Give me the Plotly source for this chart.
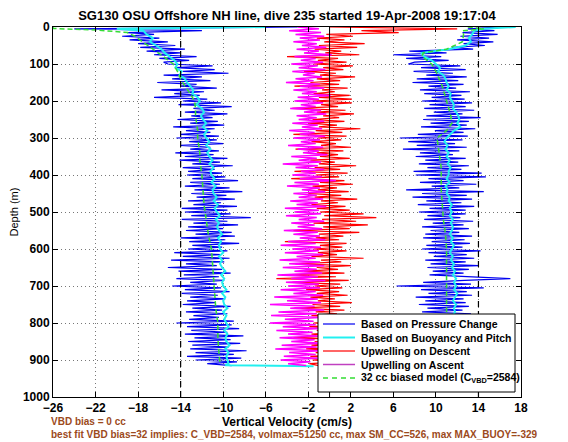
import plotly.graph_objects as go

# ---------------- data ----------------
# depth grid (m) for the dense (noisy) series, every 5 m from 0 to 915
depth5 = list(range(0, 920, 5))

# Descent, vertical velocity based on pressure change (cm/s)
desc_pressure = [
    -3, -24, -12, -19, -16.5, -19.5, -16, -18.8, -15.2, -18, -14.5, -17.8, -13.6, -17.2, -14, -16.5, -12.5, -16, -13.2, -15.6,
    -15.2, -11, -14.5, -10.8, -13.8, -9.5, -15.6, -12, -14.8, -11.2, -16.2, -12.5, -14, -10.6, -15.8, -11.8, -14.6, -12.2, -16.5, -11.5,
    -13.8, -10.2, -14.2, -9.2, -12.8, -10.8, -13.6, -9.6, -13, -11, -14.3, -10.5, -13.1, -9.9, -14.7, -10.8, -13.5, -11.2, -14, -10.4,
    -14.4, -10.6, -13.2, -10, -14, -11.2, -13.1, -10.4, -14.5, -10.9, -13.6, -9.6, -14.1, -10.3, -12.9, -9.1, -13.8, -10.8, -13.3, -10.1,
    -13.4, -9.8, -12.9, -8.6, -13.1, -10.3, -13.6, -9.4, -12.7, -8.2, -13, -9.7, -12.5, -8.9, -13.3, -10.2, -12.8, -8.7, -13.9, -9.6,
    -13.6, -9.3, -13, -7.4, -13.9, -9.6, -12.8, -8.6, -13.3, -10, -13.5, -9.2, -12.6, -8.9, -14, -9.8, -13.2, -8.5, -12.9, -10.1,
    -13.3, -9.6, -14.6, -10.2, -13.8, -9.4, -14.9, -9.9, -13.5, -10.6, -15.2, -10.1, -14.2, -9.3, -13.7, -10.4, -14.4, -9.9, -13.1, -10.6,
    -14.8, -10.2, -13.6, -9.4, -13.9, -10.5, -13.1, -9.8, -13.4, -10.7, -13.8, -9.3, -12.9, -10.1, -13.5, -9.6, -12.8, -10.4, -13.2, -9,
    -14.4, -9.2, -13.4, -8.5, -13, -9.6, -13.6, -8.1, -12.7, -9.3, -13.3, -8.4, -12.9, -9.5, -13.1, -7.8, -12.6, -9, -13.4, -8.3,
    -12.6, -8.7, -11.5, -9.2,
]

# Ascent, vertical velocity based on pressure change (cm/s)
asc_pressure = [
    16, 13, 15.5, 12.5, 15.8, 12.3, 15, 12, 15.4, 12.6, 14.6, 11.5, 13.5, 7.5, 11, 6, 10.5, 7.2, 11.2, 8,
    7.4, 12.3, 8.6, 12.8, 7.9, 11.6, 9.1, 12.9, 8.2, 12.1, 7.8, 12.6, 9.3, 11.9, 8.5, 13.2, 8.9, 12.4, 9.6, 12.7,
    8.7, 13.4, 9.4, 12.8, 8.9, 13.6, 9.8, 12.5, 9.1, 14.2, 8.8, 13.1, 9.5, 12.9, 8.6, 13.7, 9.9, 12.6, 8.3, 13,
    6.6, 12.5, 7.4, 11.8, 8.2, 12.9, 6.9, 12.2, 8.5, 11.6, 8.1, 12.8, 9, 12.1, 8.4, 13.1, 9.2, 12.4, 7.9, 14.3,
    8.1, 14.7, 9.3, 12.6, 8.5, 13.8, 9.6, 12.2, 7.2, 14.5, 8.7, 12.9, 7.8, 13.4, 9.1, 12.4, 8.3, 13.6, 9.4, 12.8,
    8.4, 12.8, 9.2, 12.3, 8.9, 13.5, 9.7, 12.6, 8.7, 13.1, 9.5, 12.2, 9, 13.4, 8.8, 12.7, 9.6, 13.2, 9.1, 12.5,
    8.7, 14.2, 9.3, 12.9, 9.8, 13.6, 9, 12.8, 9.5, 14, 9.2, 13.1, 9.7, 12.6, 9.4, 13.8, 17, 12.7, 8.8, 13.3,
    6.3, 14.5, 8.6, 12.9, 9.3, 13.4, 8.1, 12.6, 9, 12.8, 8.4, 13.1, 9.2, 12.5, 8.7, 13.3, 9.5, 12.7, 8.9, 13,
    8, 13.2, 9.1, 12.6, 8.5, 13.5, 9.3, 12.4, 8.2, 12.9, 9, 13.6, 8.6, 12.7, 9.4, 13.1, 8.8, 12.5, 9.2, 13.3,
    8.7, 12.8, 9.5, 11.5,
]

# Upwelling on descent (cm/s)
upwell_desc = [
    0, 12, 3, 6.5, -0.3, 2.2, -1.2, 1.4, -0.5, 3.3, -1, 2.6, -1.4, 1.1, -0.4, 2.8, -4, 0.8, -1.1, 1.6,
    -1.5, 2.2, -0.6, 1.3, -2.4, 0.6, -0.9, 2.4, -1.2, 1, -1.8, 0.9, -3.3, 1.7, -0.7, 0.5, -1.5, 1.9, -1, 2.1,
    -1.6, 2.1, -0.8, 0.8, -3.5, 1.5, -1.2, 2.3, -0.6, 0.9, -1.6, 1.4, -2, 0.7, -1, 2.9, -1.3, 1.2, -3.4, 1.6,
    -1.1, 1.1, -1.7, 0.6, -0.8, 2, -3.2, 1.3, -1.2, 0.8, -0.9, 1.9, -1.8, 0.5, -1, 2.5, -1.4, 1, -3.3, 1.7,
    -1.3, 0.9, -3.6, 1.4, -0.9, 2.2, -1.6, 0.7, -1.1, 1.8, -2, 1.1, -1.4, 2.6, -0.8, 0.8, -1.7, 1.5, -1.2, 1.9,
    -0.9, 3.2, -0.5, 4.4, -0.7, 2.5, -1.5, 3.6, -0.6, 1.9, -3.4, 2.8, -1, 1.3, -1.3, 0.9, -4.2, 1.6, -0.9, 1.2,
    -1.5, 1.6, -1.1, 0.7, -1.7, 3.2, -0.8, 1.1, -3.2, 2, -1.2, 0.8, -2.4, 1.4, -4.4, 0.6, -5, 1.8, -3.5, 1,
    -1.4, 1.2, -2.2, 0.9, -1.2, 1.7, -1.8, 0.5, -1.1, 2.1, -1.6, 1, -3.3, 1.4, -1.3, 0.7, -1.7, 1.9, -1, 1.1,
    -1.5, 1.5, -1.9, 0.8, -1.2, 1.3, -1.7, 0.6, -3.4, 1.7, -1.4, 0.9, -1.7, 1.2, -2.2, 0.5, -1.3, 1.4, -1.8, 0.8,
    -1.6, 1.1, -1.9, -1,
]

# Upwelling on ascent (cm/s)
upwell_asc = [
    -3, -1, -3.8, -0.8, -3.2, -0.5, -2.8, -0.9, -3.4, -1.2, -2.6, -0.3, -3.1, -1, -2.4, 0.2, -3.3, -1.3, -2.7, -0.6,
    -3.6, -1.1, -2.9, -0.4, -3.5, -1.4, -2.5, -0.7, -3.2, -1.5, -4.1, -0.9, -2.8, -0.5, -3.4, -1.2, -2.6, 0.1, -3, -1,
    -3.3, -0.6, -2.7, -1.3, -3.7, -0.8, -2.4, -0.3, -3.1, -1.2, -2.9, -0.5, -3.5, -1.1, -2.6, -0.7, -3.8, -1.4, -2.8, -0.4,
    -3.4, -0.9, -2.7, -1.3, -3.9, -0.6, -3, -1, -2.5, -0.2, -3.6, -1.2, -2.9, -0.8, -4.4, -1.1, -3.2, -0.5, -2.7, -1.3,
    -3.5, -0.7, -2.8, 0.6, -3.3, -1, -4, -0.9, -2.6, -0.4, -3.4, -1.2, -2.9, -0.6, -3.7, -1.1, -3.1, -0.3, -4.2, -1,
    -3.3, -0.8, -4.1, -1.2, -2.9, -0.5, -3.6, -1.4, -3, -0.7, -4.3, -1.1, -3.4, -0.9, -2.8, -0.4, -3.9, -1.3, -4.6, -0.8,
    -3.5, -1, -4.2, -0.6, -3.1, -1.3, -4.7, -0.9, -3.8, -0.5, -4.4, -1.2, -3.3, -0.7, -4.9, -1.1, -3.6, -0.4, -4.1, -1,
    -3.9, -0.9, -4.6, -1.3, -3.4, -0.6, -5.2, -1.1, -4, -0.8, -5.6, -1.4, -3.7, -0.5, -4.8, -1.2, -5.5, -0.9, -4.2, -1.5,
    -5.6, -1.3, -4.4, -0.8, -5, -1.6, -3.9, -1, -4.7, -1.4, -3.6, -0.7, -4.5, -1.2, -5.1, -0.9, -3.8, -1.3, -4.3, -1.1,
    -4.6, -1.8, -3.9, -2.2,
]

# Buoyancy-and-pitch based velocity (smoother), descent
buoy_desc_depth = [0, 5, 10, 20, 30, 40, 50, 60, 70, 80, 90, 100, 110, 120, 130, 140, 150, 160, 170, 180, 190,
                   200, 210, 220, 230, 240, 250, 260, 270, 280, 290, 300, 310, 320, 330, 340, 350, 360, 370, 380, 390,
                   400, 410, 420, 430, 440, 450, 460, 470, 480, 490, 500, 510, 520, 530, 540, 550, 560, 570, 580, 590,
                   600, 610, 620, 630, 640, 650, 660, 670, 680, 690, 700, 710, 720, 730, 740, 750, 760, 770, 780, 790,
                   800, 810, 820, 830, 840, 850, 860, 870, 880, 890, 900, 910, 914, 917]
buoy_desc = [-6, -20, -17.5, -17.2, -16.6, -16.9, -16.3, -15.8, -15.5, -15, -14.6, -14.3, -14.5, -13.9, -14.1, -13.6, -13.4, -13.1, -12.8, -12.9, -12.4,
             -12.2, -12.5, -12, -11.8, -12.1, -11.9, -11.6, -11.9, -11.5, -11.8, -11.6, -11.3, -11.6, -11.2, -11.5, -11.3, -11, -11.3, -10.9, -11.2,
             -11.1, -10.8, -11.1, -10.7, -11, -10.9, -10.6, -10.9, -10.5, -10.8, -10.6, -10.3, -10.7, -10.4, -10.6, -10.4, -10.1, -10.5, -10.2, -10.4,
             -10.3, -10, -10.4, -10.1, -10.3, -10.1, -9.8, -10.2, -9.9, -10.1, -10, -9.7, -10.1, -9.8, -10, -9.9, -9.6, -10, -9.7, -9.9,
             -9.7, -9.5, -9.9, -9.6, -9.8, -9.7, -9.4, -9.8, -9.5, -9.7, -9.6, -9.5, -9.8, -1.5]

# Buoyancy-and-pitch based velocity, ascent
buoy_asc_depth = [0, 5, 10, 20, 30, 40, 50, 60, 70, 80, 90, 100, 110, 120, 130, 140, 150, 160, 170, 180, 190,
                  200, 210, 220, 230, 240, 250, 260, 270, 280, 290, 300, 310, 320, 330, 340, 350, 360, 370, 380, 390,
                  400, 410, 420, 430, 440, 450, 460, 470, 480, 490, 500, 510, 520, 530, 540, 550, 560, 570, 580, 590,
                  600, 610, 620, 630, 640, 650, 660, 670, 680, 690, 700, 710, 720, 730, 740, 750, 760, 770, 780, 790,
                  800, 820, 840, 860, 880, 900, 915]
buoy_asc = [17.5, 14.5, 13.6, 13.4, 13.1, 13.3, 12.8, 11.2, 8.6, 8.9, 9.6, 10, 10.4, 10.2, 10.7, 10.9, 11, 11.2, 11, 11.4, 11.3,
            11.5, 11.7, 11.6, 11.9, 12.1, 12.2, 12, 12.3, 11.7, 11.3, 11, 10.8, 11.1, 10.9, 11.2, 11, 11.3, 11.1, 11.4, 11.2,
            11.2, 11, 11.3, 10.9, 11.1, 11, 11.3, 11.2, 11.5, 11.3, 11.5, 11.3, 11.6, 11.4, 11.6, 11.5, 11.3, 11.6, 11.4, 11.7,
            11.5, 11.3, 11.6, 11.4, 11.7, 11.5, 11.8, 11.6, 11.9, 11.7, 11.9, 11.7, 12, 11.8, 11.6, 11.9, 11.7, 11.8, 11.6, 11.9,
            11.7, 11.8, 11.6, 11.8, 11.7, 11.6, 11.5]

# 32 cc biased model, descent and ascent
model_desc_depth = [0, 4, 8, 15, 25, 40, 60, 80, 100, 120, 140, 160, 180, 200, 220, 240, 260, 280, 300, 320, 340, 360, 380,
                    400, 440, 480, 520, 560, 600, 640, 680, 720, 760, 800, 840, 880, 910]
model_desc = [-26, -26, -22, -19, -18.3, -17.6, -16.6, -15.6, -14.7, -14.3, -14, -13.6, -13.1, -12.7, -12.6, -12.6, -12.5, -12.4,
              -12.4, -12.3, -12.2, -12.2, -12.1, -12, -11.9, -11.8, -11.6, -11.4, -11.1, -11, -10.9, -10.8, -10.7, -10.5, -10.5,
              -10.4, -10.3]
model_asc_depth = [0, 5, 10, 20, 40, 60, 70, 80, 100, 120, 140, 160, 180, 200, 220, 240, 260, 280, 300, 320, 340, 360, 380,
                   400, 440, 480, 520, 560, 600, 640, 680, 720, 760, 800, 840, 880, 915]
model_asc = [13, 14.5, 12.5, 12.6, 12.5, 11, 8.8, 8.7, 9.6, 10, 10.3, 10.6, 10.8, 11, 11.2, 11.4, 11.5, 11, 10.1, 10.2, 10.3,
             10.4, 10.5, 10.5, 10.5, 10.6, 10.7, 10.9, 11, 11, 11, 11, 11, 11, 11, 11, 11]

# reference lines (cm/s): vertical-velocity limits and zero
limit_lines = [-14, 14]
zero_line = [0]

x_ticks = [-26, -22, -18, -14, -10, -6, -2, 2, 6, 10, 14, 18]
y_ticks = [0, 100, 200, 300, 400, 500, 600, 700, 800, 900, 1000]

title_text = "SG130 OSU Offshore NH line, dive 235 started 19-Apr-2008 19:17:04"
note1 = "VBD bias = 0 cc"
note2 = "best fit VBD bias=32 implies: C_VBD=2584, volmax=51250 cc, max SM_CC=526, max MAX_BUOY=-329"

legend_labels = ["Based on Pressure Change", "Based on Buoyancy and Pitch", "Upwelling on Descent",
                 "Upwelling on Ascent", "32 cc biased model (C<sub>VBD</sub>=2584)"]

# ---------------- figure ----------------
FONT = "Liberation Sans, Arial, Helvetica, sans-serif"
BLUE = "#0000f0"
CYAN = "#22f0f0"
RED = "#ff0000"
MAGENTA = "#ff00ff"
GREEN = "#33dd33"

fig = go.Figure()

fig.add_trace(go.Scatter(x=desc_pressure, y=depth5, mode="lines", line=dict(color=BLUE, width=1.2),
                         name=legend_labels[0]))
fig.add_trace(go.Scatter(x=asc_pressure, y=depth5, mode="lines", line=dict(color=BLUE, width=1.2),
                         name=legend_labels[0]))
fig.add_trace(go.Scatter(x=buoy_desc, y=buoy_desc_depth, mode="lines", line=dict(color=CYAN, width=2),
                         name=legend_labels[1]))
fig.add_trace(go.Scatter(x=buoy_asc, y=buoy_asc_depth, mode="lines", line=dict(color=CYAN, width=2),
                         name=legend_labels[1]))
fig.add_trace(go.Scatter(x=upwell_desc, y=depth5, mode="lines", line=dict(color=RED, width=1.2),
                         name=legend_labels[2]))
fig.add_trace(go.Scatter(x=upwell_asc, y=depth5, mode="lines", line=dict(color=MAGENTA, width=1.5),
                         name=legend_labels[3]))
fig.add_trace(go.Scatter(x=model_desc, y=model_desc_depth, mode="lines",
                         line=dict(color=GREEN, width=1.5, dash="5px,3px"), name=legend_labels[4]))
fig.add_trace(go.Scatter(x=model_asc, y=model_asc_depth, mode="lines",
                         line=dict(color=GREEN, width=1.5, dash="5px,3px"), name=legend_labels[4]))

for v in limit_lines:
    fig.add_shape(type="line", xref="x", yref="paper", x0=v, x1=v, y0=0, y1=1,
                  line=dict(color="black", width=1.2, dash="6px,4px"), layer="above")
for v in zero_line:
    fig.add_shape(type="line", xref="x", yref="paper", x0=v, x1=v, y0=0, y1=1,
                  line=dict(color="black", width=1), layer="above")

# The page body adds an 8 px margin, so the figure is 8 px smaller than the window
# and all window-pixel positions below are shifted by OFF.
OFF = 8
W, H = 568 - OFF, 442 - OFF
L, T = 53 - OFF, 27 - OFF
R = W - (521 - OFF)
B = H - (397 - OFF)
pw, ph = W - L - R, H - T - B


def px_x(p):
    return (p - OFF - L) / pw


def px_y(p):
    return (H - B - (p - OFF)) / ph


fig.update_layout(
    width=W, height=H,
    margin=dict(l=L, r=R, t=T, b=B, autoexpand=False),
    paper_bgcolor="white", plot_bgcolor="white",
    font=dict(family=FONT, color="black", size=11),
    title=dict(text=title_text, x=0.5, xref="paper", xanchor="center",
               y=1 - 2.5 / H, yref="container", yanchor="top", pad=dict(t=0, b=0, l=0, r=0),
               font=dict(family=FONT, size=13, weight="bold", color="black")),
    showlegend=False,
)

fig.update_xaxes(
    range=[-26, 18], tickvals=x_ticks, ticktext=[("\u2212" + str(-t)) if t < 0 else str(t) for t in x_ticks],
    showline=True, linecolor="black", linewidth=1, mirror="allticks",
    ticks="inside", ticklen=5, tickcolor="black", automargin=False,
    showgrid=True, gridcolor="#777777", griddash="1px,3px", gridwidth=1, zeroline=False,
    tickfont=dict(family=FONT, size=12, weight="bold"),
    title=dict(text="Vertical Velocity (cm/s)", font=dict(family=FONT, size=12, weight="bold"), standoff=0),
)
fig.update_yaxes(
    range=[1000, 0], tickvals=y_ticks,
    showline=True, linecolor="black", linewidth=1, mirror="allticks",
    ticks="inside", ticklen=5, tickcolor="black", automargin=False,
    showgrid=True, gridcolor="#777777", griddash="1px,3px", gridwidth=1, zeroline=False,
    tickfont=dict(family=FONT, size=12, weight="bold"),
    title=dict(text="Depth (m)", font=dict(family=FONT, size=11), standoff=6),
)

# ----- legend box (compact, lower right, as in the reference) -----
lx0, lx1, ly0, ly1 = 318, 515, 314, 392
fig.add_shape(type="rect", xref="paper", yref="paper", x0=px_x(lx0), x1=px_x(lx1), y0=px_y(ly1), y1=px_y(ly0),
              line=dict(color="black", width=1), fillcolor="white", layer="above")
legend_styles = [(BLUE, "solid", 1.2), (CYAN, "solid", 2), (RED, "solid", 1.2), ("#c040c0", "solid", 1.5),
                 (GREEN, "5px,4px", 1.5)]
row_y = [324, 337.5, 351, 364.5, 378]
for (col, dsh, wd), lab, ry in zip(legend_styles, legend_labels, row_y):
    fig.add_shape(type="line", xref="paper", yref="paper", x0=px_x(323), x1=px_x(355), y0=px_y(ry), y1=px_y(ry),
                  line=dict(color=col, width=wd, dash=dsh), layer="above")
    fig.add_annotation(text=lab, xref="paper", yref="paper", x=px_x(359), y=px_y(ry),
                       xanchor="left", yanchor="middle", showarrow=False,
                       font=dict(family=FONT, size=10.5, weight="bold", color="black"))

BROWN = "#9c4a1c"
fig.add_annotation(text=note1, xref="paper", yref="paper", x=px_x(49), y=px_y(421),
                   xanchor="left", yanchor="middle", showarrow=False,
                   font=dict(family=FONT, size=10, weight="bold", color=BROWN))
fig.add_annotation(text=note2, xref="paper", yref="paper", x=px_x(49), y=px_y(434),
                   xanchor="left", yanchor="middle", showarrow=False,
                   font=dict(family=FONT, size=10, weight="bold", color=BROWN))

fig.write_html("out.html")
